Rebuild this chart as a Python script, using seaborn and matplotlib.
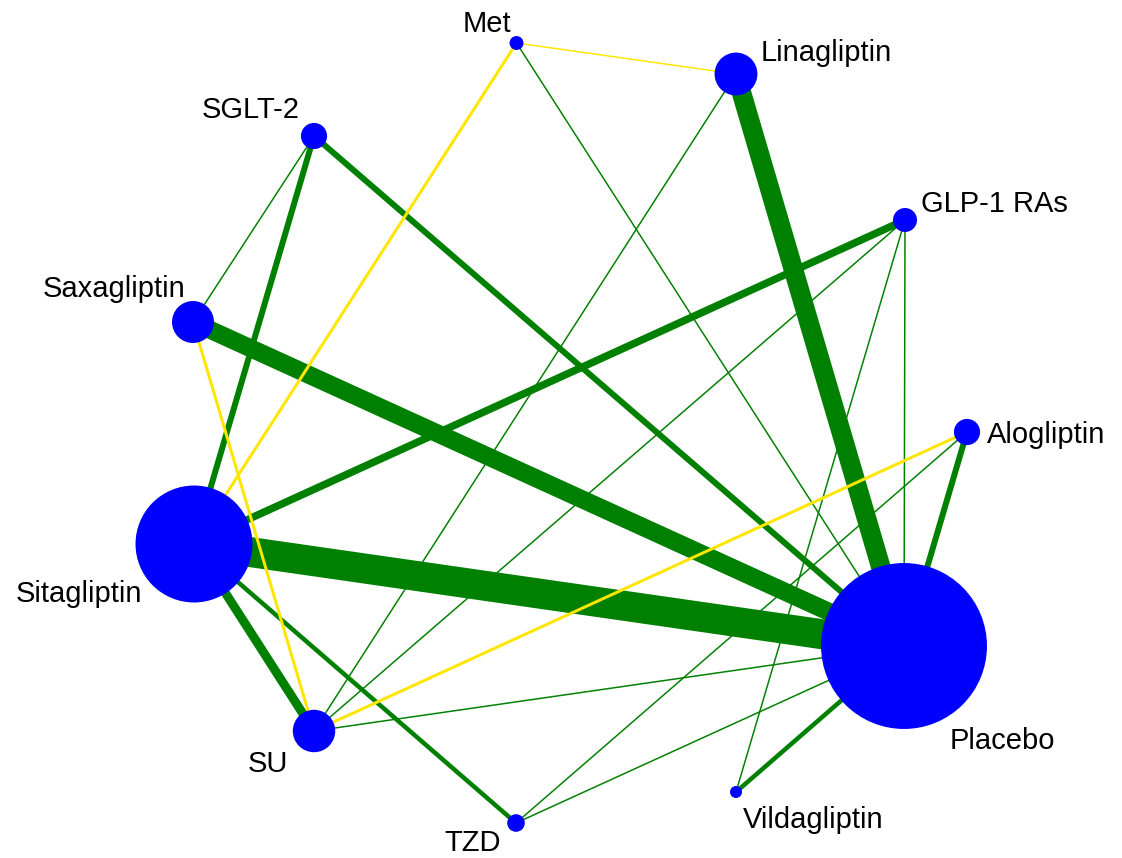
import matplotlib
matplotlib.use("Agg")
import matplotlib.pyplot as plt
import numpy as np
import pandas as pd
import seaborn as sns

# Treatments in the network and their layout (pixel-like canvas units, y downwards)
treatments = ["Met", "Linagliptin", "SGLT-2", "GLP-1 RAs", "Saxagliptin", "Alogliptin",
              "Sitagliptin", "Placebo", "SU", "TZD", "Vildagliptin"]
layout_x = [516.5, 736, 314, 905, 193, 967, 194, 904, 314, 516, 736]
layout_y = [43, 74, 136, 220, 322, 432, 544, 646, 731, 823, 792]

# Relative amount of evidence per treatment (node area is proportional to it)
node_weight = [5.4, 51, 19, 16, 49, 19, 380, 765, 50, 8.6, 4]

# Direct comparisons: endpoints, number of trials, comparison type
edge_a = ["Met", "Met", "Met", "Linagliptin", "Linagliptin", "SGLT-2", "SGLT-2", "SGLT-2",
          "GLP-1 RAs", "GLP-1 RAs", "GLP-1 RAs", "GLP-1 RAs", "Saxagliptin", "Saxagliptin",
          "Alogliptin", "Alogliptin", "Alogliptin", "Sitagliptin", "Sitagliptin", "Sitagliptin",
          "Placebo", "Placebo", "Placebo"]
edge_b = ["Linagliptin", "Sitagliptin", "Placebo", "Placebo", "SU", "Saxagliptin", "Sitagliptin",
          "Placebo", "Sitagliptin", "SU", "Placebo", "Vildagliptin", "Placebo", "SU",
          "Placebo", "SU", "TZD", "Placebo", "SU", "TZD", "SU", "TZD", "Vildagliptin"]
edge_trials = [1, 2, 1, 13, 1, 1, 4, 4, 5, 1, 1, 1, 12, 2, 4, 2, 1, 20, 6, 3, 1, 1, 3]
edge_kind = ["add-on", "add-on", "mono", "mono", "mono", "mono", "mono", "mono",
             "mono", "mono", "mono", "mono", "mono", "add-on", "mono", "add-on", "mono",
             "mono", "mono", "mono", "mono", "mono", "mono"]

W, H, DPI = 1122, 858, 100
PX2PT = 72 / DPI
kind_color = {"mono": "#008000", "add-on": "#FFE600"}

nodes = pd.DataFrame({"treatment": treatments, "x": layout_x, "y": layout_y,
                      "weight": node_weight})
pos = {t: (x, y) for t, x, y in zip(treatments, layout_x, layout_y)}

sns.set_theme(style="white")
plt.rcParams["font.family"] = ["Liberation Sans", "DejaVu Sans"]

fig = plt.figure(figsize=(W / DPI, H / DPI), dpi=DPI)
ax = fig.add_axes([0, 0, 1, 1])

# Edges: green comparisons first, yellow ones above them
for kind, z in (("mono", 1), ("add-on", 2)):
    for a, b, n, k in zip(edge_a, edge_b, edge_trials, edge_kind):
        if k != kind:
            continue
        (x0, y0), (x1, y1) = pos[a], pos[b]
        ax.plot([x0, x1], [y0, y1], color=kind_color[k], lw=1.5 * n * PX2PT,
                solid_capstyle="butt", zorder=z)

# Nodes: radius in px = 3 * sqrt(weight)
radius_px = 3 * np.sqrt(nodes["weight"].to_numpy())
sizes = (2 * radius_px * PX2PT) ** 2
sns.scatterplot(data=nodes, x="x", y="y", s=sizes, color="#0000FF", linewidth=0,
                ax=ax, zorder=3, legend=False)
ax.set_xlim(0, W)
ax.set_ylim(H, 0)
ax.set_axis_off()

# Label placement relative to each node: (dx, dy to baseline, alignment)
label_offset = {
    "Met": (-29.5, -11, "center"),
    "Linagliptin": (25, -13, "left"),
    "SGLT-2": (-63, -18, "center"),
    "GLP-1 RAs": (16, -8, "left"),
    "Saxagliptin": (-8, -25, "right"),
    "Alogliptin": (20, 11, "left"),
    "Sitagliptin": (-52, 58, "right"),
    "Placebo": (46, 103, "left"),
    "SU": (-26, 41, "right"),
    "TZD": (-43, 28, "center"),
    "Vildagliptin": (7, 36, "left"),
}
for t in treatments:
    dx, dy, ha = label_offset[t]
    x, y = pos[t]
    ax.text(x + dx, y + dy, t, ha=ha, va="baseline", fontsize=21, color="black", zorder=4)

fig.savefig("out.png", dpi=DPI, facecolor="white")
